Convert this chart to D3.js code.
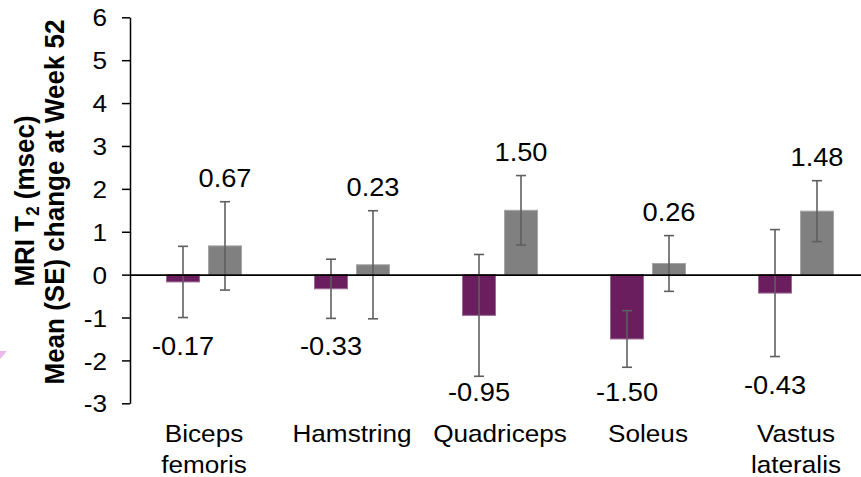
<!DOCTYPE html>
<html>
<head>
<meta charset="utf-8">
<script src="https://cdn.jsdelivr.net/npm/d3@7"></script>
<style>
  html, body { margin: 0; padding: 0; background: #fff; }
  svg { display: block; font-family: "Liberation Sans", Arial, sans-serif; }
</style>
</head>
<body>
<svg id="chart" width="861" height="477"></svg>
<script>
// ---- data ----
const categories = [["Biceps", "femoris"], ["Hamstring"], ["Quadriceps"], ["Soleus"], ["Vastus", "lateralis"]];
const seriesNames = ["Group A", "Group B"];
const seriesA = [-0.17, -0.33, -0.95, -1.50, -0.43];
const seA     = [0.83, 0.69, 1.42, 0.66, 1.48];
const seriesB = [0.67, 0.23, 1.50, 0.26, 1.48];
const seB     = [1.03, 1.26, 0.81, 0.65, 0.71];
const yTicks  = [-3, -2, -1, 0, 1, 2, 3, 4, 5, 6];

// ---- build ----
const svg = d3.select("#chart");
const W = 861, H = 477;
const colors = {"Group A": "#6a1e5d", "Group B": "#808080"};
const strokes = {"Group A": "#9c6a94", "Group B": "#a6a6a6"};
const SX = 1.09; // horizontal glyph stretch seen in reference

svg.append("rect").attr("width", W).attr("height", H).attr("fill", "#fff");

const keys = categories.map(c => c.join(" "));
const y = d3.scaleLinear().domain([-3, 6]).range([403.3, 17.3]);
const x0 = d3.scaleBand().domain(keys).range([130, 870]).paddingInner(0).paddingOuter(0);
const x1 = d3.scaleBand().domain(seriesNames).range([36.5, 111.5]).paddingInner(0.214).paddingOuter(0);

const rows = keys.map((k, i) => ({
  key: k,
  lines: categories[i],
  vals: [
    {s: "Group A", v: seriesA[i], e: seA[i]},
    {s: "Group B", v: seriesB[i], e: seB[i]}
  ]
}));

// decorative fragment at left edge
svg.append("polygon").attr("points", "0,351 7,351 0,359").attr("fill", "#e9b9e9");

// bars
const groups = svg.append("g").selectAll("g").data(rows).join("g")
  .attr("transform", d => `translate(${x0(d.key)},0)`);

groups.selectAll("rect").data(d => d.vals).join("rect")
  .attr("x", d => x1(d.s))
  .attr("width", x1.bandwidth())
  .attr("y", d => y(Math.max(0, d.v)))
  .attr("height", d => Math.abs(y(d.v) - y(0)))
  .attr("fill", d => colors[d.s])
  .attr("stroke", d => strokes[d.s])
  .attr("stroke-width", 1);

// x axis line (at zero)
const xAxis = d3.axisBottom(x0).tickSize(0).tickSizeOuter(0).tickFormat("");
svg.append("g").attr("transform", `translate(0,${y(0)})`).call(xAxis)
  .call(g => g.select(".domain").attr("stroke", "#000").attr("stroke-width", 1.6));

// y axis
const yAxis = d3.axisLeft(y).tickValues(yTicks).tickSize(8).tickSizeOuter(0).tickFormat(d3.format("d"));
const yg = svg.append("g").attr("transform", "translate(130,0)").call(yAxis);
yg.select(".domain").attr("stroke", "#000").attr("stroke-width", 1.5);
yg.selectAll(".tick line").attr("stroke", "#000").attr("stroke-width", 1.5);
yg.selectAll(".tick text")
  .attr("x", 0).attr("dy", "0.36em")
  .attr("transform", `translate(-23,0) scale(${SX},1)`)
  .attr("font-size", 24).attr("fill", "#000")
  .attr("font-family", "'Liberation Sans', Arial, sans-serif")
  .text(d => d < 0 ? "-" + Math.abs(d) : d);

// error bars
const cap = 5;
const eb = groups.selectAll("g.eb").data(d => d.vals).join("g").attr("class", "eb")
  .attr("stroke", "#5f5f5f").attr("stroke-width", 1.6).attr("fill", "none");
eb.append("line")
  .attr("x1", d => x1(d.s) + x1.bandwidth() / 2).attr("x2", d => x1(d.s) + x1.bandwidth() / 2)
  .attr("y1", d => y(d.v + d.e)).attr("y2", d => y(d.v - d.e));
eb.append("line")
  .attr("x1", d => x1(d.s) + x1.bandwidth() / 2 - cap).attr("x2", d => x1(d.s) + x1.bandwidth() / 2 + cap)
  .attr("y1", d => y(d.v + d.e)).attr("y2", d => y(d.v + d.e));
eb.append("line")
  .attr("x1", d => x1(d.s) + x1.bandwidth() / 2 - cap).attr("x2", d => x1(d.s) + x1.bandwidth() / 2 + cap)
  .attr("y1", d => y(d.v - d.e)).attr("y2", d => y(d.v - d.e));

// value labels
groups.selectAll("text.val").data(d => d.vals).join("text").attr("class", "val")
  .attr("text-anchor", "middle")
  .attr("font-size", 25)
  .attr("fill", "#000")
  .attr("transform", d => {
    const cx = x1(d.s) + x1.bandwidth() / 2;
    const by = d.v >= 0 ? y(d.v + d.e) - 15 : Math.min(y(d.v - d.e) + 37, 401);
    return `translate(${cx},${by}) scale(${SX},1)`;
  })
  .text(d => d3.format(".2f")(d.v).replace("−", "-"));

// category labels
const catG = svg.append("g").selectAll("text").data(rows).join("text")
  .attr("text-anchor", "middle").attr("font-size", 24).attr("fill", "#000")
  .attr("transform", d => `translate(${x0(d.key) + x0.bandwidth() / 2},442.3) scale(${SX},1)`);
catG.selectAll("tspan").data(d => d.lines).join("tspan")
  .attr("x", 0).attr("y", (d, i) => i * 30.4).text(d => d);

// y title
const t1 = svg.append("text").attr("text-anchor", "middle").attr("font-size", 26).attr("font-weight", "bold")
  .attr("transform", `translate(33.5,201) scale(${SX},1) rotate(-90)`);
t1.append("tspan").text("MRI T");
t1.append("tspan").attr("font-size", 17).attr("dy", 5).text("2");
t1.append("tspan").attr("dy", -5).text(" (msec)");
svg.append("text").attr("text-anchor", "middle").attr("font-size", 26).attr("font-weight", "bold")
  .attr("transform", `translate(63.5,202) scale(${SX},1) rotate(-90)`)
  .text("Mean (SE) change at Week 52");
</script>
</body>
</html>
